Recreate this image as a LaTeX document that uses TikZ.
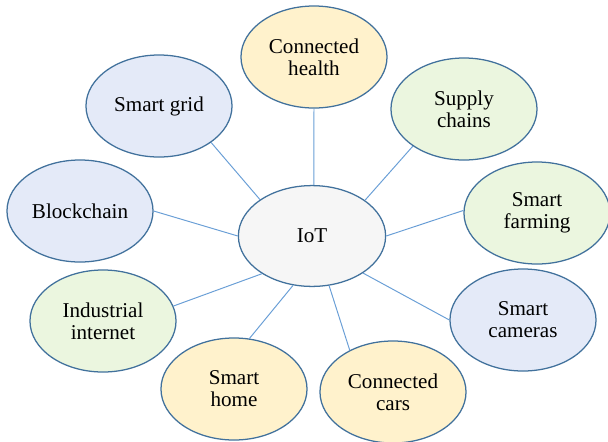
\documentclass[tikz,border=0pt]{standalone}
\usepackage{fontspec}
\setmainfont{Liberation Serif}
\usetikzlibrary{shapes.geometric}

\definecolor{rim}{HTML}{41719C}
\definecolor{spoke}{HTML}{6A9FD6}
\definecolor{pyellow}{HTML}{FFF2CC}
\definecolor{pgreen}{HTML}{EBF6DF}
\definecolor{pblue}{HTML}{E4EAF8}
\definecolor{pgrey}{HTML}{F6F6F6}

\begin{document}
\begin{tikzpicture}[x=0.025cm,y=-0.025cm,
    topic/.style={ellipse, draw=rim, line width=0.9pt, minimum width=3.65cm,
        minimum height=2.55cm, inner sep=0pt, align=center,
        font=\fontsize{15}{15.6}\selectfont},
    link/.style={draw=spoke, line width=0.7pt}]
            \useasboundingbox (0,0) rectangle (608,442);

            % Hub
            \node[topic, fill=pgrey, minimum width=3.68cm, minimum height=2.52cm] (iot) at (312,236) {IoT};

            % Applications
            \node[topic, fill=pyellow] (health) at (314,57) {Connected\\health};
            \node[topic, fill=pblue] (grid) at (159,106) {Smart grid};
            \node[topic, fill=pgreen] (supply) at (464,109) {Supply\\chains};
            \node[topic, fill=pblue] (block) at (80,211) {Blockchain};
            \node[topic, fill=pgreen] (farm) at (537,213) {Smart\\farming};
            \node[topic, fill=pgreen] (indus) at (103,321) {Industrial\\internet};
            \node[topic, fill=pblue] (cams) at (523,320) {Smart\\cameras};
            \node[topic, fill=pyellow] (home) at (234,389) {Smart\\home};
            \node[topic, fill=pyellow] (cars) at (393,392) {Connected\\cars};

            % Links
            \draw[link] (iot.88) -- (health.south);
            \draw[link] (iot.145) -- (grid.-35);
            \draw[link] (iot.34) -- (supply.216);
            \draw[link] (iot.west) -- (block.east);
            \draw[link] (iot.east) -- (farm.178);
            \draw[link] (iot.217) -- (indus.12);
            \draw[link] (iot.-36) -- (cams.west);
            \draw[link] (iot.249) -- (home.73);
            \draw[link] (iot.-71) -- (cars.136);

\end{tikzpicture}
\end{document}
